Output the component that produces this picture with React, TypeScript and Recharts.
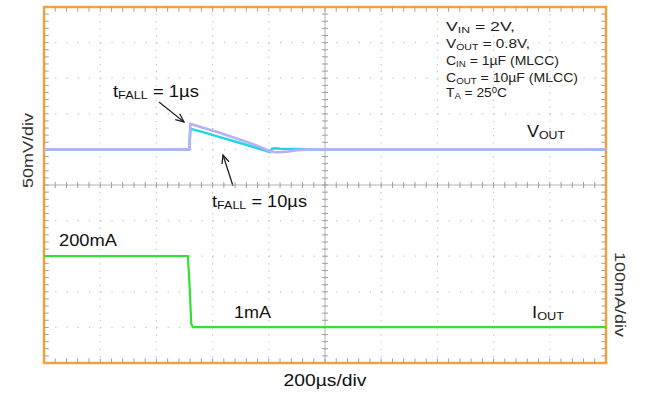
import {
  CartesianGrid,
  ComposedChart,
  Customized,
  Line,
  ReferenceArea,
  ReferenceLine,
  XAxis,
  YAxis,
} from 'recharts'

// scope settings: 200µs/div, 50mV/div (VOUT), 100mA/div (IOUT), 10 x 10 divisions
const timeTicks = [0, 200, 400, 600, 800, 1000, 1200, 1400, 1600, 1800, 2000]
const voltTicks = [-300, -250, -200, -150, -100, -50, 0, 50, 100, 150, 200]

// VOUT deviation (mV) for both load-step fall times
const voutTime = [0, 517, 521, 560, 620, 680, 740, 790, 804, 812, 822, 840, 870, 900, 950, 2000]
const vout1us = [0, 0, 36, 31, 24, 16, 8, 0, -3, -3, -4, -4, -3, -1, 0, 0]
const vout10us = [0, 0, 29, 25, 18, 11, 4, -2, -4, 1, 1.5, 1, 0.5, 0.5, 0, 0]

// IOUT load step (mA)
const ioutTime = [0, 512, 518, 524, 530, 2000]
const ioutMa = [200, 200, 120, 10, 1, 1]

const voutRows = voutTime.map((t, i) => ({ t, v1: vout1us[i], v10: vout10us[i] }))
const ioutRows = ioutTime.map((t, i) => ({ t, i: ioutMa[i] }))

// minor divisions (5 per major division)
const minorTime = Array.from({ length: 49 }, (_, k) => (k + 1) * 40)
const minorVolt = Array.from({ length: 49 }, (_, k) => -300 + (k + 1) * 10)

const FONT = '"Liberation Sans", Arial, sans-serif'
const TICK = '#a0a0a0'

// tick mark lengths in data units
const TICK_T = 11
const TICK_V = 4.3
const EDGE_T = 17
const EDGE_V = 6.5

function Arrow({ x1, y1, x2, y2 }: { x1: number; y1: number; x2: number; y2: number }) {
  const a = Math.atan2(y2 - y1, x2 - x1)
  const len = 9
  const spread = 0.42
  const p1 = [x2 - len * Math.cos(a - spread), y2 - len * Math.sin(a - spread)]
  const p2 = [x2 - len * Math.cos(a + spread), y2 - len * Math.sin(a + spread)]
  return (
    <g stroke="#222" strokeWidth={1.3} fill="none">
      <line x1={x1} y1={y1} x2={x2} y2={y2} />
      <polyline points={`${p1[0]},${p1[1]} ${x2},${y2} ${p2[0]},${p2[1]}`} />
    </g>
  )
}

function Sub({
  x,
  y,
  main,
  sub,
  rest = '',
  size = 16,
  subSize = 11,
  width,
  fill = '#111',
}: {
  x: number
  y: number
  main: string
  sub: string
  rest?: string
  size?: number
  subSize?: number
  width: number
  fill?: string
}) {
  return (
    <text
      x={x}
      y={y}
      fontFamily={FONT}
      fontSize={size}
      fill={fill}
      textLength={width}
      lengthAdjust="spacingAndGlyphs"
    >
      {main}
      <tspan fontSize={subSize} dy={1.5}>
        {sub}
      </tspan>
      {rest ? <tspan dy={-1.5}>{rest}</tspan> : null}
    </text>
  )
}

function Annotations() {
  return (
    <g>
      <Sub x={113} y={97} main="t" sub="FALL" rest=" = 1µs" width={86} />
      <Sub x={212} y={207} main="t" sub="FALL" rest=" = 10µs" width={95} />
      <Arrow x1={159} y1={102} x2={184} y2={122} />
      <Arrow x1={233} y1={186} x2={223} y2={155} />

      <Sub x={527} y={137} main="V" sub="OUT" width={38} />
      <Sub x={532} y={318} main="I" sub="OUT" width={32} />

      <text x={59} y={246} fontFamily={FONT} fontSize={16} fill="#111" textLength={58} lengthAdjust="spacingAndGlyphs">
        200mA
      </text>
      <text x={234} y={318} fontFamily={FONT} fontSize={16} fill="#111" textLength={37} lengthAdjust="spacingAndGlyphs">
        1mA
      </text>

      <Sub x={446} y={31} main="V" sub="IN" rest=" = 2V," size={13} subSize={9} width={69} fill="#222" />
      <Sub x={446} y={48} main="V" sub="OUT" rest=" = 0.8V," size={13} subSize={9} width={84} fill="#222" />
      <Sub x={446} y={65} main="C" sub="IN" rest=" = 1µF (MLCC)" size={13} subSize={9} width={113} fill="#222" />
      <Sub x={446} y={82} main="C" sub="OUT" rest=" = 10µF (MLCC)" size={13} subSize={9} width={132} fill="#222" />
      <text x={446} y={97} fontFamily={FONT} fontSize={13} fill="#222" textLength={61} lengthAdjust="spacingAndGlyphs">
        T
        <tspan fontSize={9} dy={1.5}>
          A
        </tspan>
        <tspan dy={-1.5}> = 25</tspan>
        <tspan fontSize={9} dy={-4}>
          0
        </tspan>
        <tspan dy={4}>C</tspan>
      </text>

      <text
        x={33}
        y={150.5}
        transform="rotate(-90 33 150.5)"
        textAnchor="middle"
        fontFamily={FONT}
        fontSize={15}
        fill="#333"
        textLength={75}
        lengthAdjust="spacingAndGlyphs"
      >
        50mV/div
      </text>
      <text
        x={615}
        y={294.5}
        transform="rotate(90 615 294.5)"
        textAnchor="middle"
        fontFamily={FONT}
        fontSize={15}
        fill="#333"
        textLength={85}
        lengthAdjust="spacingAndGlyphs"
      >
        100mA/div
      </text>
      <text
        x={325}
        y={386}
        textAnchor="middle"
        fontFamily={FONT}
        fontSize={16}
        fill="#111"
        textLength={83}
        lengthAdjust="spacingAndGlyphs"
      >
        200µs/div
      </text>
    </g>
  )
}

function tickSegment(key: string, a: { x: number; y: number }, b: { x: number; y: number }) {
  return <ReferenceLine key={key} xAxisId={0} yAxisId="v" segment={[a, b]} stroke={TICK} strokeWidth={1} />
}

export default function App() {
  return (
    <div style={{ position: 'absolute', left: 0, top: 0, width: 647, height: 396, background: '#fff' }}>
      <ComposedChart width={647} height={396} margin={{ top: 7, right: 41, bottom: 33, left: 44 }}>
        <XAxis xAxisId={0} dataKey="t" type="number" domain={[0, 2000]} ticks={timeTicks} hide allowDataOverflow />
        <YAxis yAxisId="v" type="number" domain={[-300, 200]} ticks={voltTicks} hide allowDataOverflow />
        <YAxis yAxisId="i" type="number" domain={[-100, 900]} hide allowDataOverflow />

        <CartesianGrid xAxisId={0} yAxisId="v" vertical={false} stroke="#c2c2c2" strokeWidth={1.2} strokeDasharray="1.2 10.04" />
        <CartesianGrid xAxisId={0} yAxisId="v" horizontal={false} stroke="#c2c2c2" strokeWidth={1.2} strokeDasharray="1.2 5.92" />

        <ReferenceLine xAxisId={0} yAxisId="v" x={1000} stroke="#b4b4b4" strokeWidth={1} />
        <ReferenceLine xAxisId={0} yAxisId="v" y={-50} stroke="#b4b4b4" strokeWidth={1} />

        {minorTime.map((t) => tickSegment(`cx${t}`, { x: t, y: -50 - TICK_V }, { x: t, y: -50 + TICK_V }))}
        {minorVolt.map((v) => tickSegment(`cy${v}`, { x: 1000 - TICK_T, y: v }, { x: 1000 + TICK_T, y: v }))}
        {minorTime.map((t) => tickSegment(`tx${t}`, { x: t, y: 200 }, { x: t, y: 200 - EDGE_V }))}
        {minorTime.map((t) => tickSegment(`bx${t}`, { x: t, y: -300 }, { x: t, y: -300 + EDGE_V }))}
        {minorVolt.map((v) => tickSegment(`ly${v}`, { x: 0, y: v }, { x: EDGE_T, y: v }))}
        {minorVolt.map((v) => tickSegment(`ry${v}`, { x: 2000, y: v }, { x: 2000 - EDGE_T, y: v }))}

        <Line
          data={ioutRows}
          xAxisId={0}
          yAxisId="i"
          dataKey="i"
          type="linear"
          stroke="#33e033"
          strokeWidth={2.2}
          dot={false}
          activeDot={false}
          isAnimationActive={false}
        />
        <Line
          data={voutRows}
          xAxisId={0}
          yAxisId="v"
          dataKey="v10"
          type="linear"
          stroke="#1ed6ea"
          strokeWidth={2.5}
          dot={false}
          activeDot={false}
          isAnimationActive={false}
        />
        <Line
          data={voutRows}
          xAxisId={0}
          yAxisId="v"
          dataKey="v1"
          type="linear"
          stroke="#b8b0f2"
          strokeWidth={2.6}
          dot={false}
          activeDot={false}
          isAnimationActive={false}
        />

        <ReferenceArea
          xAxisId={0}
          yAxisId="v"
          x1={0}
          x2={2000}
          y1={-300}
          y2={200}
          fill="none"
          fillOpacity={0}
          stroke="#f2a23a"
          strokeWidth={2.5}
          ifOverflow="visible"
        />

        <Customized component={Annotations} />
      </ComposedChart>
    </div>
  )
}
